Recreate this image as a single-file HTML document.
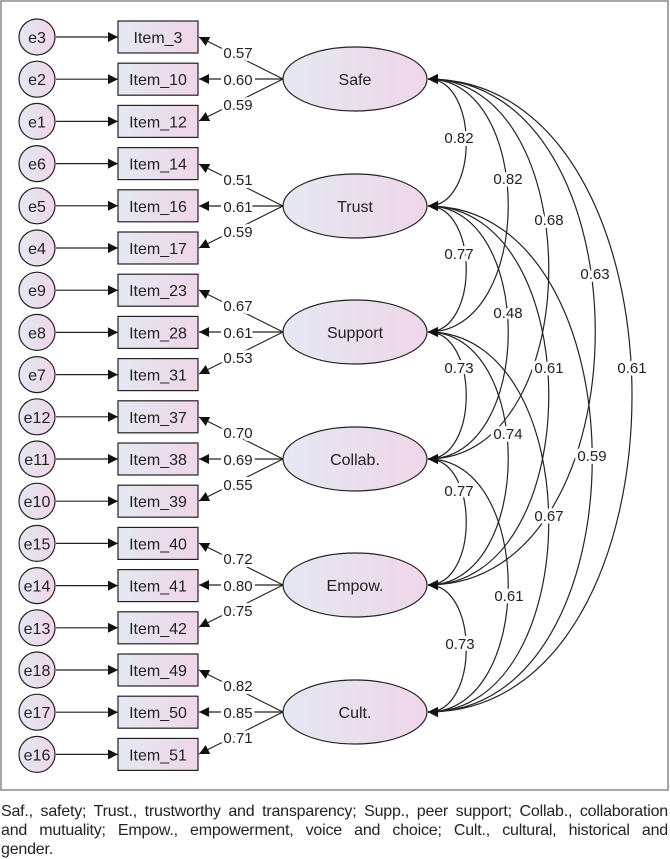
<!DOCTYPE html>
<html><head><meta charset="utf-8"><style>
body{margin:0;background:#fff;width:670px;height:859px;overflow:hidden;font-family:"Liberation Sans",sans-serif}
svg{position:absolute;left:0;top:0}
.cap{position:absolute;left:1px;top:802px;width:667px;font-size:16px;line-height:19px;color:#222;letter-spacing:-0.2px}
.cap div{white-space:nowrap}
.cap .j{text-align:justify;text-align-last:justify;white-space:normal}
text{font-family:"Liberation Sans",sans-serif;fill:#222}
.lb{font-size:15px;text-anchor:middle;paint-order:stroke;stroke:#fff;stroke-width:6px;stroke-linejoin:round}
</style></head><body>
<svg width="670" height="800" viewBox="0 0 670 800">
<defs>
<linearGradient id="g" x1="0" x2="1" y1="0" y2="0"><stop offset="0" stop-color="#e4e8f2"/><stop offset="1" stop-color="#efd6e8"/></linearGradient>
<marker id="a" viewBox="0 0 10 10" refX="10" refY="5" markerWidth="10" markerHeight="10" markerUnits="userSpaceOnUse" orient="auto-start-reverse"><path d="M0,0 L10,5 L0,10 z" fill="#111"/></marker>
</defs>
<rect x="1" y="1" width="667" height="789" fill="#fff" stroke="#888" stroke-width="1.5"/>
<g stroke="#222" stroke-width="1.2" fill="none">
<g marker-end="url(#a)">
<path d="M56 37H118"/><path d="M56 79.2H118"/><path d="M56 121.4H118"/><path d="M56 163.6H118"/><path d="M56 205.8H118"/><path d="M56 248H118"/><path d="M56 290.2H118"/><path d="M56 332.4H118"/><path d="M56 374.6H118"/><path d="M56 416.8H118"/><path d="M56 459H118"/><path d="M56 501.2H118"/><path d="M56 543.4H118"/><path d="M56 585.6H118"/><path d="M56 627.8H118"/><path d="M56 670H118"/><path d="M56 712.2H118"/><path d="M56 754.4H118"/>
<path d="M283 79L199 37"/><path d="M283 79L199 79"/><path d="M283 79L199 121"/>
<path d="M283 206L199 164"/><path d="M283 206L199 206"/><path d="M283 206L199 248"/>
<path d="M283 332L199 290"/><path d="M283 332L199 332"/><path d="M283 332L199 374"/>
<path d="M283 459L199 417"/><path d="M283 459L199 459"/><path d="M283 459L199 501"/>
<path d="M283 585L199 543"/><path d="M283 585L199 585"/><path d="M283 585L199 627"/>
<path d="M283 712L199 670"/><path d="M283 712L199 712"/><path d="M283 712L199 754"/>
</g>
<g marker-start="url(#a)" marker-end="url(#a)">
<path d="M428 79C479 79 479 206 428 206"/>
<path d="M428 79C535 79 535 332 428 332"/>
<path d="M428 79C589 79 589 459 428 459"/>
<path d="M428 79C651 79 651 585 428 585"/>
<path d="M428 79C700 79 700 712 428 712"/>
<path d="M428 206C479 206 479 332 428 332"/>
<path d="M428 206C535 206 535 459 428 459"/>
<path d="M428 206C589 206 589 585 428 585"/>
<path d="M428 206C647 206 647 712 428 712"/>
<path d="M428 332C479 332 479 459 428 459"/>
<path d="M428 332C535 332 535 585 428 585"/>
<path d="M428 332C589 332 589 712 428 712"/>
<path d="M428 459C479 459 479 585 428 585"/>
<path d="M428 459C535 459 535 712 428 712"/>
<path d="M428 585C479 585 479 712 428 712"/>
</g>
</g>
<g fill="url(#g)" stroke="#222" stroke-width="1.2">
<circle cx="37" cy="37" r="18"/><circle cx="37" cy="79.2" r="18"/><circle cx="37" cy="121.4" r="18"/><circle cx="37" cy="163.6" r="18"/><circle cx="37" cy="205.8" r="18"/><circle cx="37" cy="248" r="18"/><circle cx="37" cy="290.2" r="18"/><circle cx="37" cy="332.4" r="18"/><circle cx="37" cy="374.6" r="18"/><circle cx="37" cy="416.8" r="18"/><circle cx="37" cy="459" r="18"/><circle cx="37" cy="501.2" r="18"/><circle cx="37" cy="543.4" r="18"/><circle cx="37" cy="585.6" r="18"/><circle cx="37" cy="627.8" r="18"/><circle cx="37" cy="670" r="18"/><circle cx="37" cy="712.2" r="18"/><circle cx="37" cy="754.4" r="18"/>
<rect x="118" y="21" width="80" height="32"/><rect x="118" y="63.2" width="80" height="32"/><rect x="118" y="105.4" width="80" height="32"/><rect x="118" y="147.6" width="80" height="32"/><rect x="118" y="189.8" width="80" height="32"/><rect x="118" y="232" width="80" height="32"/><rect x="118" y="274.2" width="80" height="32"/><rect x="118" y="316.4" width="80" height="32"/><rect x="118" y="358.6" width="80" height="32"/><rect x="118" y="400.8" width="80" height="32"/><rect x="118" y="443" width="80" height="32"/><rect x="118" y="485.2" width="80" height="32"/><rect x="118" y="527.4" width="80" height="32"/><rect x="118" y="569.6" width="80" height="32"/><rect x="118" y="611.8" width="80" height="32"/><rect x="118" y="654" width="80" height="32"/><rect x="118" y="696.2" width="80" height="32"/><rect x="118" y="738.4" width="80" height="32"/>
<ellipse cx="355" cy="79" rx="72" ry="32"/><ellipse cx="355" cy="206" rx="72" ry="32"/><ellipse cx="355" cy="332" rx="72" ry="32"/><ellipse cx="355" cy="459" rx="72" ry="32"/><ellipse cx="355" cy="585" rx="72" ry="32"/><ellipse cx="355" cy="712" rx="72" ry="32"/>
</g>
<g font-size="16" text-anchor="middle">
<text x="37" y="43">e3</text><text x="37" y="85.2">e2</text><text x="37" y="127.4">e1</text><text x="37" y="169.6">e6</text><text x="37" y="211.8">e5</text><text x="37" y="254">e4</text><text x="37" y="296.2">e9</text><text x="37" y="338.4">e8</text><text x="37" y="380.6">e7</text><text x="37" y="422.8">e12</text><text x="37" y="465">e11</text><text x="37" y="507.2">e10</text><text x="37" y="549.4">e15</text><text x="37" y="591.6">e14</text><text x="37" y="633.8">e13</text><text x="37" y="676">e18</text><text x="37" y="718.2">e17</text><text x="37" y="760.4">e16</text>
<text x="158" y="43">Item_3</text><text x="158" y="85.2">Item_10</text><text x="158" y="127.4">Item_12</text><text x="158" y="169.6">Item_14</text><text x="158" y="211.8">Item_16</text><text x="158" y="254">Item_17</text><text x="158" y="296.2">Item_23</text><text x="158" y="338.4">Item_28</text><text x="158" y="380.6">Item_31</text><text x="158" y="422.8">Item_37</text><text x="158" y="465">Item_38</text><text x="158" y="507.2">Item_39</text><text x="158" y="549.4">Item_40</text><text x="158" y="591.6">Item_41</text><text x="158" y="633.8">Item_42</text><text x="158" y="676">Item_49</text><text x="158" y="718.2">Item_50</text><text x="158" y="760.4">Item_51</text>
<text x="355" y="85">Safe</text><text x="355" y="212">Trust</text><text x="355" y="338">Support</text><text x="355" y="465">Collab.</text><text x="355" y="591">Empow.</text><text x="355" y="718">Cult.</text>
</g>
<g class="lb">
<text x="238" y="58">0.57</text><text x="238" y="85">0.60</text><text x="238" y="110">0.59</text>
<text x="238" y="185">0.51</text><text x="238" y="212">0.61</text><text x="238" y="237">0.59</text>
<text x="238" y="311">0.67</text><text x="238" y="338">0.61</text><text x="238" y="363">0.53</text>
<text x="238" y="438">0.70</text><text x="238" y="465">0.69</text><text x="238" y="490">0.55</text>
<text x="238" y="564">0.72</text><text x="238" y="591">0.80</text><text x="238" y="616">0.75</text>
<text x="238" y="691">0.82</text><text x="238" y="718">0.85</text><text x="238" y="743">0.71</text>
<text x="459" y="143">0.82</text><text x="508" y="184">0.82</text><text x="549" y="225">0.68</text><text x="595" y="279">0.63</text><text x="632" y="373">0.61</text>
<text x="459" y="259">0.77</text><text x="508" y="318">0.48</text><text x="549" y="373">0.61</text><text x="592" y="461">0.59</text>
<text x="459" y="373">0.73</text><text x="508" y="439">0.74</text><text x="549" y="521">0.67</text>
<text x="459" y="496">0.77</text><text x="509" y="601">0.61</text>
<text x="460" y="649">0.73</text>
</g>
</svg>
<div class="cap"><div class="j">Saf., safety; Trust., trustworthy and transparency; Supp., peer support; Collab., collaboration</div><div class="j">and mutuality; Empow., empowerment, voice and choice; Cult., cultural, historical and</div><div>gender.</div></div>
</body></html>
